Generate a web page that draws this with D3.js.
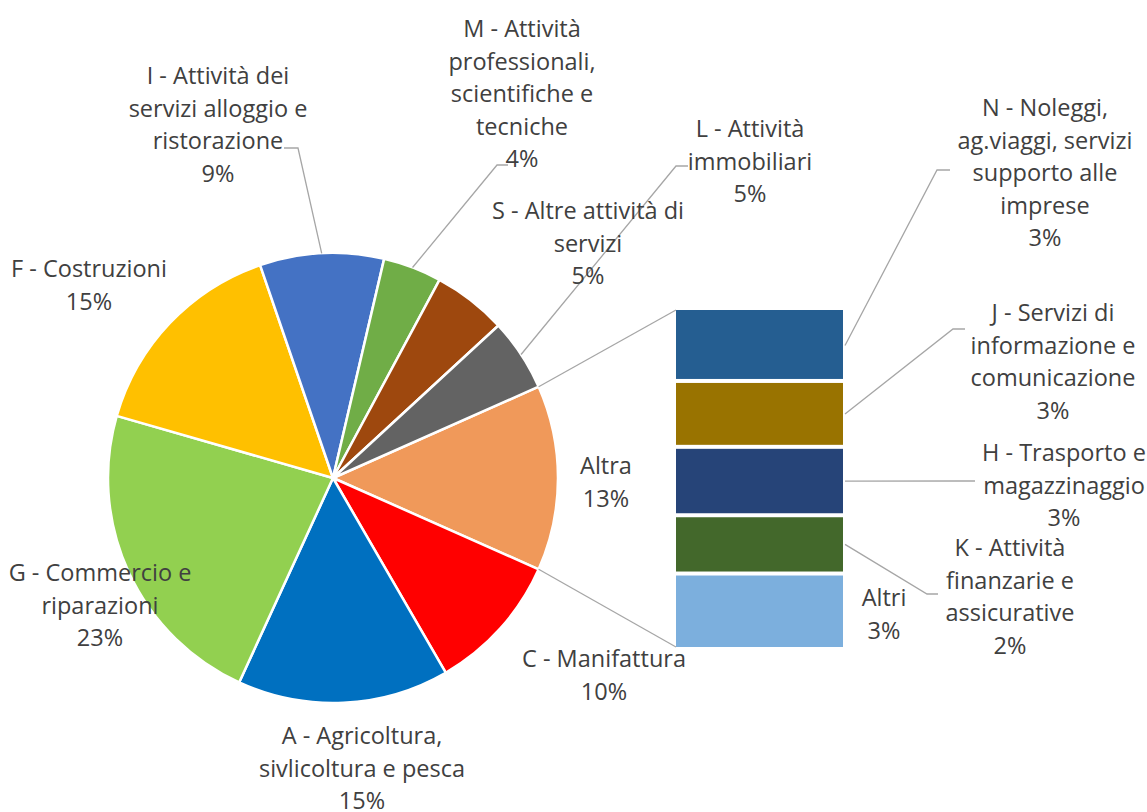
<!DOCTYPE html>
<html>
<head>
<meta charset="utf-8">
<script src="https://cdn.jsdelivr.net/npm/d3@7"></script>
<style>
  body { margin: 0; background: #fff; }
  text { font-family: "Open Sans", "Noto Sans", sans-serif; fill: #404040; }
</style>
</head>
<body>
<script>
(()=>{
    const width = 1147;
    const height = 812;

    // pie slices, clockwise starting with the "Altra" slice (centred at 3 o'clock)
    const pieCategories = ["Altra", "C - Manifattura", "A - Agricoltura, sivlicoltura e pesca", "G - Commercio e riparazioni",
        "F - Costruzioni", "I - Attività dei servizi alloggio e ristorazione", "M - Attività professionali, scientifiche e tecniche",
        "S - Altre attività di servizi", "L - Attività immobiliari"];
    const pieValues = [0, 10.0, 15.2, 22.6, 15.3, 8.9, 4.2, 5.3, 5.2];
    const pieColors = ["#F0995A", "#FF0000", "#0070C0", "#92D050", "#FFC000", "#4472C4", "#70AD47", "#9E480E", "#636363"];

    // bar (top to bottom) that breaks down "Altra"
    const barCategories = ["N - Noleggi, ag.viaggi, servizi supporto alle imprese", "J - Servizi di informazione e comunicazione",
        "H - Trasporto e magazzinaggio", "K - Attività finanzarie e assicurative", "Altri"];
    const barValues = [2.8, 2.6, 2.7, 2.3, 2.9];
    const barColors = ["#255E91", "#997300", "#264478", "#43682B", "#7CAFDD"];

    const altraTotal = d3.sum(barValues);
    pieValues[0] = altraTotal;
    const total = d3.sum(pieValues);
    const pct = d3.format(".0%");

    // label lines and positions (x = centre, y = first line)
    const labelLayout = {
        "Altra": {x: 606, y: 465, lines: ["Altra"]},
        "C - Manifattura": {x: 604, y: 658, lines: ["C - Manifattura"]},
        "A - Agricoltura, sivlicoltura e pesca": {x: 362, y: 735, lines: ["A - Agricoltura,", "sivlicoltura e pesca"]},
        "G - Commercio e riparazioni": {x: 100, y: 572, lines: ["G - Commercio e", "riparazioni"]},
        "F - Costruzioni": {x: 89, y: 268, lines: ["F - Costruzioni"]},
        "I - Attività dei servizi alloggio e ristorazione": {x: 218, y: 75, lines: ["I - Attività dei", "servizi alloggio e", "ristorazione"], elbow: [298, 148], end: [284, 148]},
        "M - Attività professionali, scientifiche e tecniche": {x: 522, y: 28, lines: ["M - Attività", "professionali,", "scientifiche e", "tecniche"], elbow: [497, 165], end: [508, 165]},
        "S - Altre attività di servizi": {x: 588, y: 210, lines: ["S - Altre attività di", "servizi"]},
        "L - Attività immobiliari": {x: 750, y: 128, lines: ["L - Attività", "immobiliari"], elbow: [676, 166], end: [688, 166]},
        "N - Noleggi, ag.viaggi, servizi supporto alle imprese": {x: 1045, y: 107, lines: ["N - Noleggi,", "ag.viaggi, servizi", "supporto alle", "imprese"], elbow: [937, 170], end: [950, 170]},
        "J - Servizi di informazione e comunicazione": {x: 1053, y: 312, lines: ["J - Servizi di", "informazione e", "comunicazione"], elbow: [953, 329], end: [965, 329]},
        "H - Trasporto e magazzinaggio": {x: 1064, y: 452, lines: ["H - Trasporto e", "magazzinaggio"], elbow: [960, 481], end: [975, 481]},
        "K - Attività finanzarie e assicurative": {x: 1010, y: 547, lines: ["K - Attività", "finanzarie e", "assicurative"], elbow: [927, 594], end: [938, 594]},
        "Altri": {x: 884, y: 597, lines: ["Altri"]}
    };
    const lineHeight = 32.5;

    const cx = 333, cy = 478, r = 225;
    const barX0 = 676, barX1 = 843, barTop = 310, barBottom = 647;

    const svg = d3.create("svg")
        .attr("width", width)
        .attr("height", height)
        .attr("viewBox", [0, 0, width, height]);

    const startAngle = Math.PI / 2 - (altraTotal / total) * Math.PI;
    const pie = d3.pie().sort(null).value(d => d.value)
        .startAngle(startAngle).endAngle(startAngle + 2 * Math.PI);
    const arcs = pie(pieCategories.map((c, i) => ({key: c, value: pieValues[i], color: pieColors[i]})));
    const arc = d3.arc().innerRadius(0).outerRadius(r);

    const gPie = svg.append("g").attr("transform", `translate(${cx},${cy})`);
    gPie.selectAll("path")
        .data(arcs)
        .join("path")
        .attr("d", arc)
        .attr("fill", d => d.data.color)
        .attr("stroke", "#fff")
        .attr("stroke-width", 2.5)
        .attr("stroke-linejoin", "round");

    // bar of pie
    const y = d3.scaleLinear().domain([0, altraTotal]).range([barTop, barBottom]);
    const stacked = [];
    let acc = 0;
    barCategories.forEach((c, i) => {
        stacked.push({key: c, value: barValues[i], y0: acc, y1: acc + barValues[i], color: barColors[i]});
        acc += barValues[i];
    });
    const gap = 2;
    svg.append("g")
        .selectAll("rect")
        .data(stacked)
        .join("rect")
        .attr("x", barX0)
        .attr("width", barX1 - barX0)
        .attr("y", d => y(d.y0) + (d.y0 > 0 ? gap : 0))
        .attr("height", d => y(d.y1) - y(d.y0) - (d.y0 > 0 ? gap : 0) - (d.y1 < altraTotal ? gap : 0))
        .attr("fill", d => d.color);

    // series lines from the Altra slice to the bar
    const altraArc = arcs[0];
    const edgePt = a => [cx + r * Math.sin(a), cy - r * Math.cos(a)];
    const lineColor = "#A6A6A6";
    const gLines = svg.append("g").attr("stroke", lineColor).attr("stroke-width", 1.3).attr("fill", "none");
    const p0 = edgePt(altraArc.startAngle), p1 = edgePt(altraArc.endAngle);
    gLines.append("line").attr("x1", p0[0]).attr("y1", p0[1]).attr("x2", barX0).attr("y2", y(0));
    gLines.append("line").attr("x1", p1[0]).attr("y1", p1[1]).attr("x2", barX0).attr("y2", y(altraTotal));

    // leader lines
    arcs.forEach(d => {
        const L = labelLayout[d.data.key];
        if (!L.elbow) return;
        const s = edgePt((d.startAngle + d.endAngle) / 2);
        gLines.append("polyline").attr("points", [s, L.elbow, L.end].map(p => p.join(",")).join(" "));
    });
    stacked.forEach(d => {
        const L = labelLayout[d.key];
        if (!L.elbow) return;
        const s = [barX1 + 2, (y(d.y0) + y(d.y1)) / 2];
        gLines.append("polyline").attr("points", [s, L.elbow, L.end].map(p => p.join(",")).join(" "));
    });

    // labels
    const labels = arcs.map(d => ({key: d.data.key, value: d.data.value}))
        .concat(stacked.map(d => ({key: d.key, value: d.value})));
    const gLab = svg.append("g").attr("font-size", 23.5).attr("text-anchor", "middle");
    labels.forEach(d => {
        const L = labelLayout[d.key];
        const t = gLab.append("text").attr("x", L.x).attr("y", L.y).attr("dominant-baseline", "central");
        L.lines.concat([pct(d.value / total)]).forEach((ln, i) => {
            t.append("tspan").attr("x", L.x).attr("y", L.y + i * lineHeight).text(ln);
        });
    });

    d3.select("body").append(() => svg.node());
})()
</script>
</body>
</html>
